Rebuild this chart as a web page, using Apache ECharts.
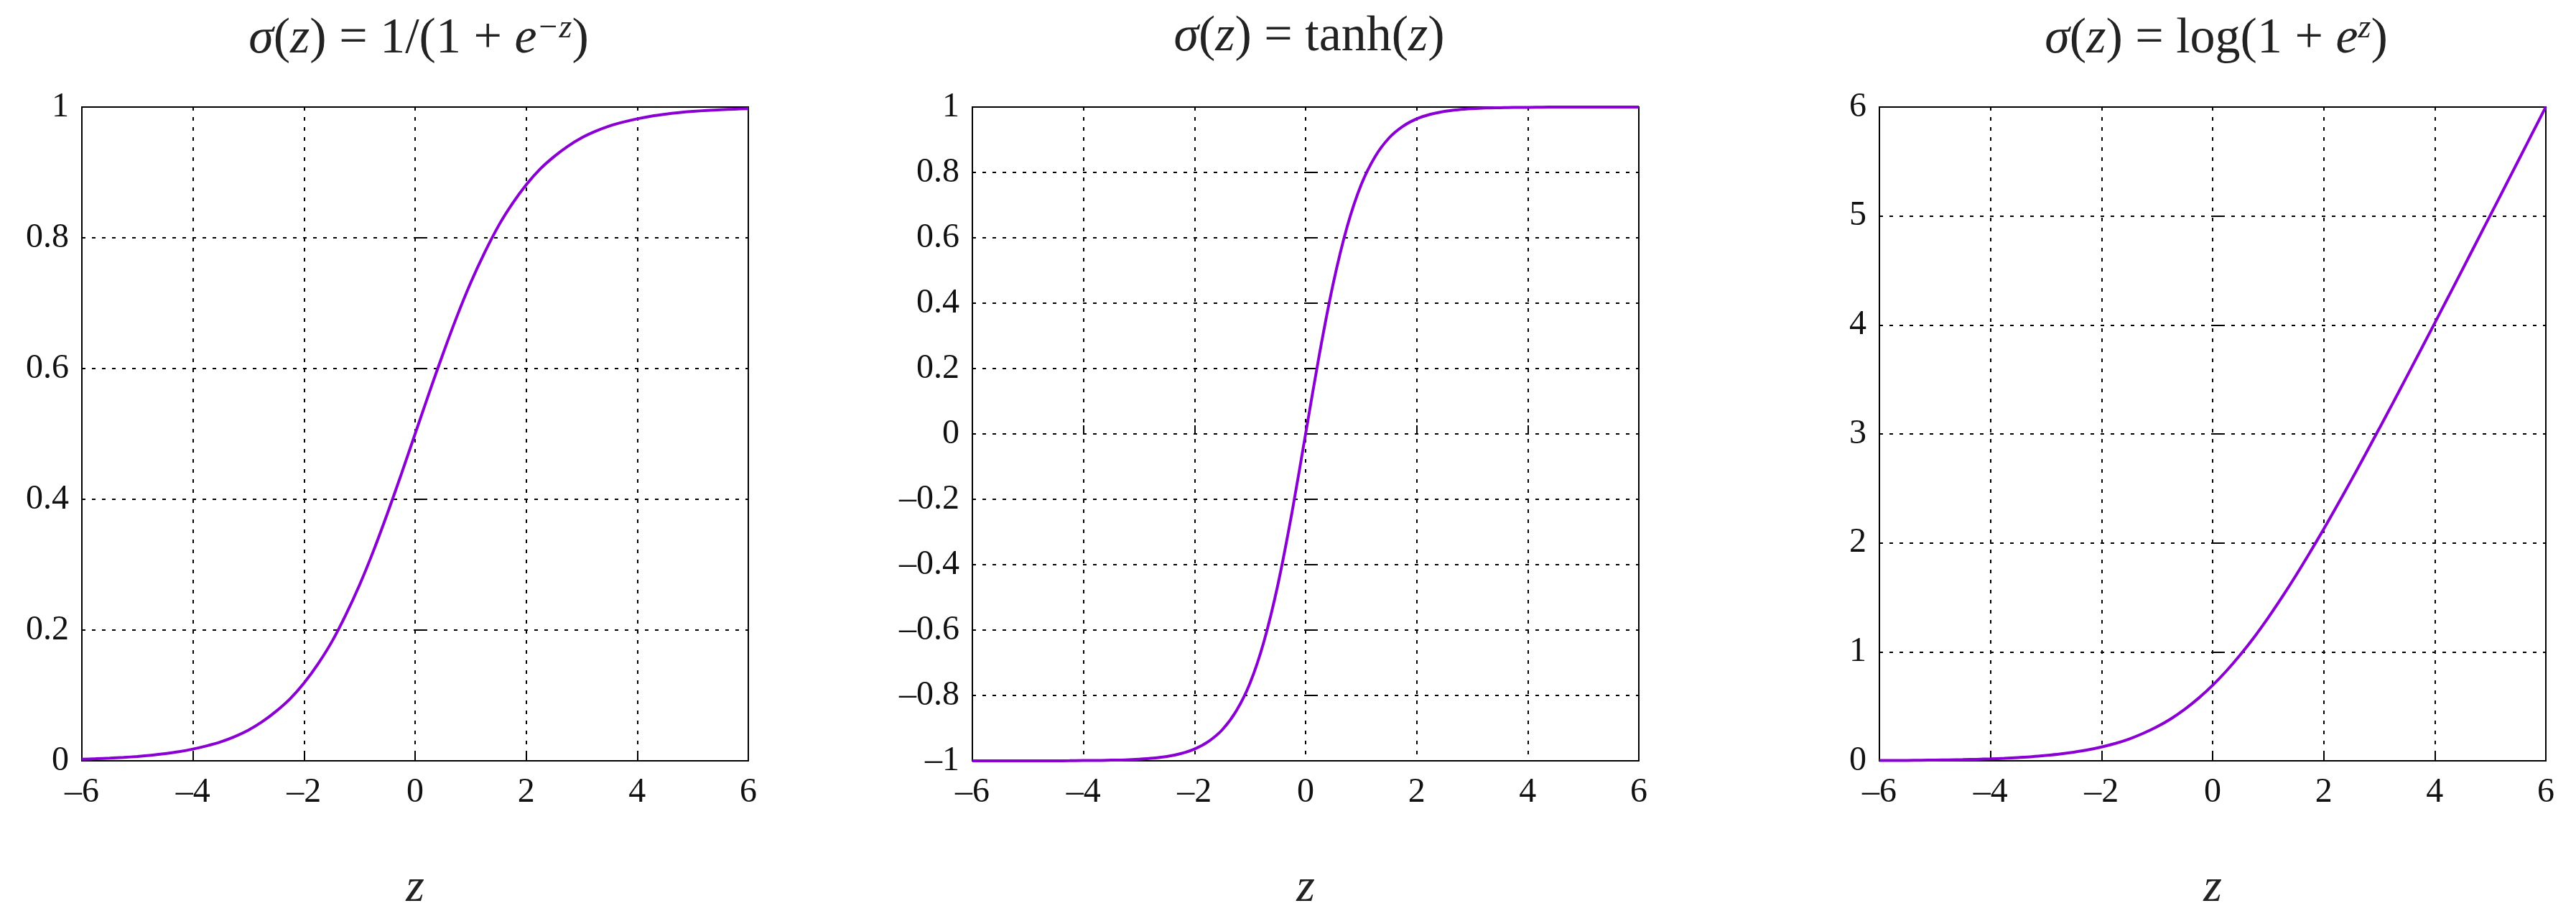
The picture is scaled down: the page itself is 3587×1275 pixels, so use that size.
<!DOCTYPE html>
<html>
<head>
	<meta charset="utf-8">
	<script src="https://cdn.jsdelivr.net/npm/echarts@6/dist/echarts.min.js"></script>
	<style>html,body{margin:0;background:#fff;}</style>
</head>
<body>
	<div id="main" style="width:3587px;height:1275px;"></div>
<script>
	// z values, step 0.25
	var zs = [-6,-5.75,-5.5,-5.25,-5,-4.75,-4.5,-4.25,-4,-3.75,-3.5,-3.25,-3,-2.75,-2.5,-2.25,-2,-1.75,-1.5,-1.25,-1,-0.75,-0.5,-0.25,
		0,0.25,0.5,0.75,1,1.25,1.5,1.75,2,2.25,2.5,2.75,3,3.25,3.5,3.75,4,4.25,4.5,4.75,5,5.25,5.5,5.75,6];
	var logistic = [0.0025,0.0032,0.0041,0.0052,0.0067,0.0086,0.011,0.014,0.018,0.023,0.029,0.037,0.047,0.060,0.076,0.095,0.119,0.148,0.182,0.223,0.269,0.321,0.378,0.438,
		0.5,0.562,0.622,0.679,0.731,0.777,0.818,0.852,0.881,0.905,0.924,0.940,0.953,0.963,0.971,0.977,0.982,0.986,0.989,0.9914,0.9933,0.9948,0.9959,0.9968,0.9975];
	var tanhVals = [-1,-1,-1,-1,-0.9999,-0.9998,-0.9998,-0.9996,-0.999,-0.999,-0.998,-0.997,-0.995,-0.992,-0.987,-0.978,-0.964,-0.941,-0.905,-0.848,-0.762,-0.635,-0.462,-0.245,
		0,0.245,0.462,0.635,0.762,0.848,0.905,0.941,0.964,0.978,0.987,0.992,0.995,0.997,0.998,0.999,0.999,0.9996,0.9998,0.9998,0.9999,1,1,1,1];
	var softplus = [0.0025,0.0032,0.0041,0.0052,0.0067,0.0086,0.011,0.014,0.018,0.023,0.030,0.038,0.049,0.062,0.079,0.100,0.127,0.160,0.201,0.252,0.313,0.386,0.474,0.576,
		0.693,0.826,0.974,1.136,1.313,1.502,1.701,1.910,2.127,2.351,2.579,2.812,3.049,3.288,3.530,3.773,4.018,4.264,4.511,4.759,5.007,5.255,5.504,5.753,6.002];
	var titles = [
		'{i|σ}({i|z}) = 1/(1 + {i|e}{sup|−z})',
		'{i|σ}({i|z}) = tanh({i|z})',
		'{i|σ}({i|z}) = log(1 + {i|e}{sup|z})'
	];
	var lefts = [114, 1354, 2617];
	var yAxes = [
		{min: 0, max: 1, interval: 0.2},
		{min: -1, max: 1, interval: 0.2},
		{min: 0, max: 6, interval: 1}
	];
	var allData = [logistic, tanhVals, softplus];

	var font = 'Liberation Serif';
	var dash = {type: [5, 9], color: '#000', width: 2};
	var option = {grid: [], xAxis: [], yAxis: [], series: [], title: []};
	for (var i = 0; i < 3; i++) {
		option.grid.push({left: lefts[i], width: 928, top: 149, height: 924, show: true, borderColor: '#000', borderWidth: 2});
		option.title.push({text: titles[i], left: lefts[i] + 464, top: 12, textAlign: 'center',
			textStyle: {fontFamily: font, fontSize: 70, fontWeight: 'normal', color: '#222',
				rich: {
					i: {fontFamily: font, fontSize: 70, fontStyle: 'italic', color: '#222'},
					sup: {fontFamily: font, fontSize: 46, fontStyle: 'italic', color: '#222', verticalAlign: 'top', padding: [0, 0, 30, 0]}
				}}});
		option.xAxis.push({type: 'value', gridIndex: i, min: -6, max: 6, interval: 2,
			name: 'z', nameLocation: 'middle', nameGap: 145,
			nameTextStyle: {fontFamily: font, fontSize: 66, fontStyle: 'italic', color: '#222'},
			axisLine: {show: false}, axisTick: {show: true, inside: true, length: 12, lineStyle: {color: '#000', width: 2}},
			splitLine: {show: true, lineStyle: dash},
			axisLabel: {fontFamily: font, fontSize: 48, color: '#111', margin: 20,
				formatter: function (v) { return String(v).replace('-', '\u2013'); }}});
		option.yAxis.push(Object.assign({type: 'value', gridIndex: i,
			axisLine: {show: false}, axisTick: {show: true, inside: true, length: 12, lineStyle: {color: '#000', width: 2}},
			splitLine: {show: true, lineStyle: dash},
			axisLabel: {fontFamily: font, fontSize: 48, color: '#111', margin: 18,
				formatter: function (v) { return String(Math.round(v * 10) / 10).replace('-', '\u2013'); }}}, yAxes[i]));
		option.series.push({type: 'line', xAxisIndex: i, yAxisIndex: i, smooth: 0.3, symbol: 'none',
			lineStyle: {color: '#8a00d4', width: 4},
			data: zs.map(function (z, k) { return [z, allData[i][k]]; })});
	}
	var chart = echarts.init(document.getElementById('main'));
	chart.setOption(option);
</script>
</body>
</html>
